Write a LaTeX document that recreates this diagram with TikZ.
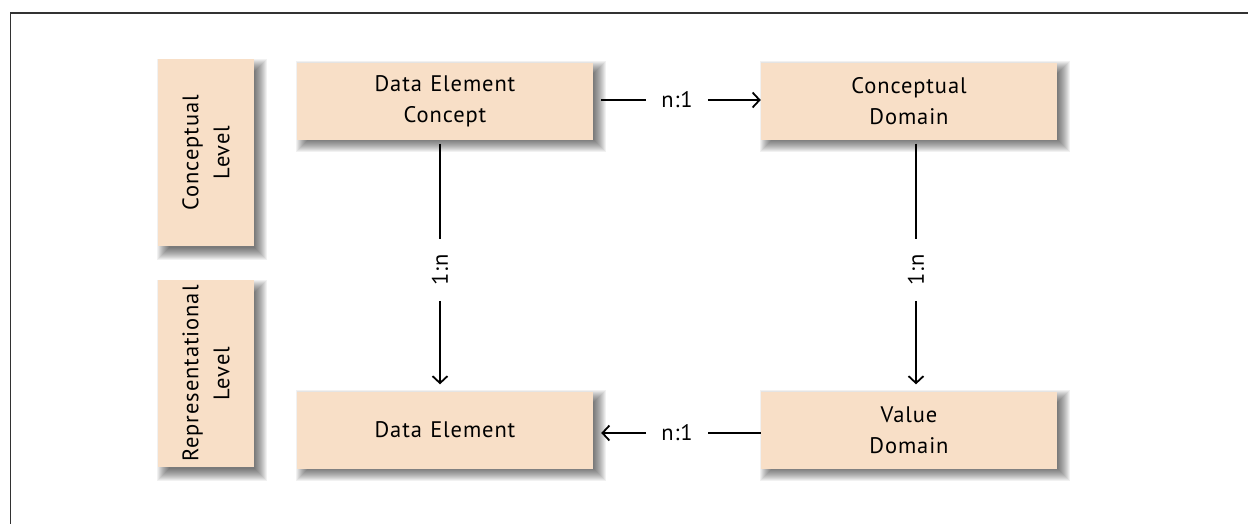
\documentclass[tikz,border=0pt]{standalone}
\usepackage{fontspec}
\setmainfont{PT Sans}[LetterSpace=4,WordSpace=1.2]
\usetikzlibrary{arrows.meta}
\definecolor{boxfill}{RGB}{248,223,199}
\definecolor{framec}{RGB}{50,50,50}
\tikzset{
  box/.style={fill=boxfill, inner sep=0pt, align=center, font=\fontsize{22.5}{31}\selectfont},
  lbl/.style={inner xsep=15pt, inner ysep=2pt, font=\fontsize{22.5}{24}\selectfont},
  conn/.style={line width=1.8pt, draw=black},
  arr/.style={conn, -{Straight Barb[length=7pt,width=15pt,line width=1.8pt]}},
}
\begin{document}
\begin{tikzpicture}[x=1pt,y=-1pt]
\useasboundingbox (0,0) rectangle (1248,523);
% frame
\draw[framec, line width=1.6pt] (10.5,530) -- (10.5,12.7) -- (1260,12.7);
% blurred shadows
\foreach \xa/\ya/\xb/\yb in {158/59/254/246, 158/280/254/467, 297/61/593/138, 761/61/1057/138, 297/390/593/467, 761/390/1057/467}{
  \foreach \r in {-5,...,7}{
    \fill[black, opacity=0.055] (\xa+6-\r,\ya+7-\r) rectangle (\xb+6+\r,\yb+7+\r);
  }
}
% level boxes
\node[box, minimum width=187pt, minimum height=96pt, rotate=90] (cl) at (206,152.5) {Conceptual\\Level};
\node[box, minimum width=187pt, minimum height=96pt, rotate=90] (rl) at (206,373.5) {Representational\\Level};
% entity boxes
\node[box, minimum width=296pt, minimum height=77pt] (dec) at (445,101) {Data Element\\Concept};
\node[box, minimum width=296pt, minimum height=77pt] (cd) at (909,101) {Conceptual\\Domain};
\node[box, minimum width=296pt, minimum height=77pt] (de) at (445,430) {Data Element};
\node[box, minimum width=296pt, minimum height=77pt] (vd) at (909,430) {Value\\Domain};
% labels
\node[lbl] (t1) at (677,100) {n:1};
\node[lbl] (b1) at (677,433) {n:1};
\node[lbl, rotate=90] (l1) at (440,270) {1:n};
\node[lbl, rotate=90] (r1) at (916,270) {1:n};
% connectors
\draw[conn, shorten <=8pt] (dec.east |- t1) -- (t1);
\draw[arr] (t1) -- (cd.west |- t1);
\draw[conn] (vd.west |- b1) -- (b1);
\draw[arr, shorten >=8pt] (b1) -- (de.east |- b1);
\draw[conn, shorten <=4pt] (l1 |- dec.south) -- (l1);
\draw[arr, shorten >=7pt] (l1) -- (l1 |- de.north);
\draw[conn, shorten <=4pt] (r1 |- cd.south) -- (r1);
\draw[arr, shorten >=7pt] (r1) -- (r1 |- vd.north);
\end{tikzpicture}
\end{document}
